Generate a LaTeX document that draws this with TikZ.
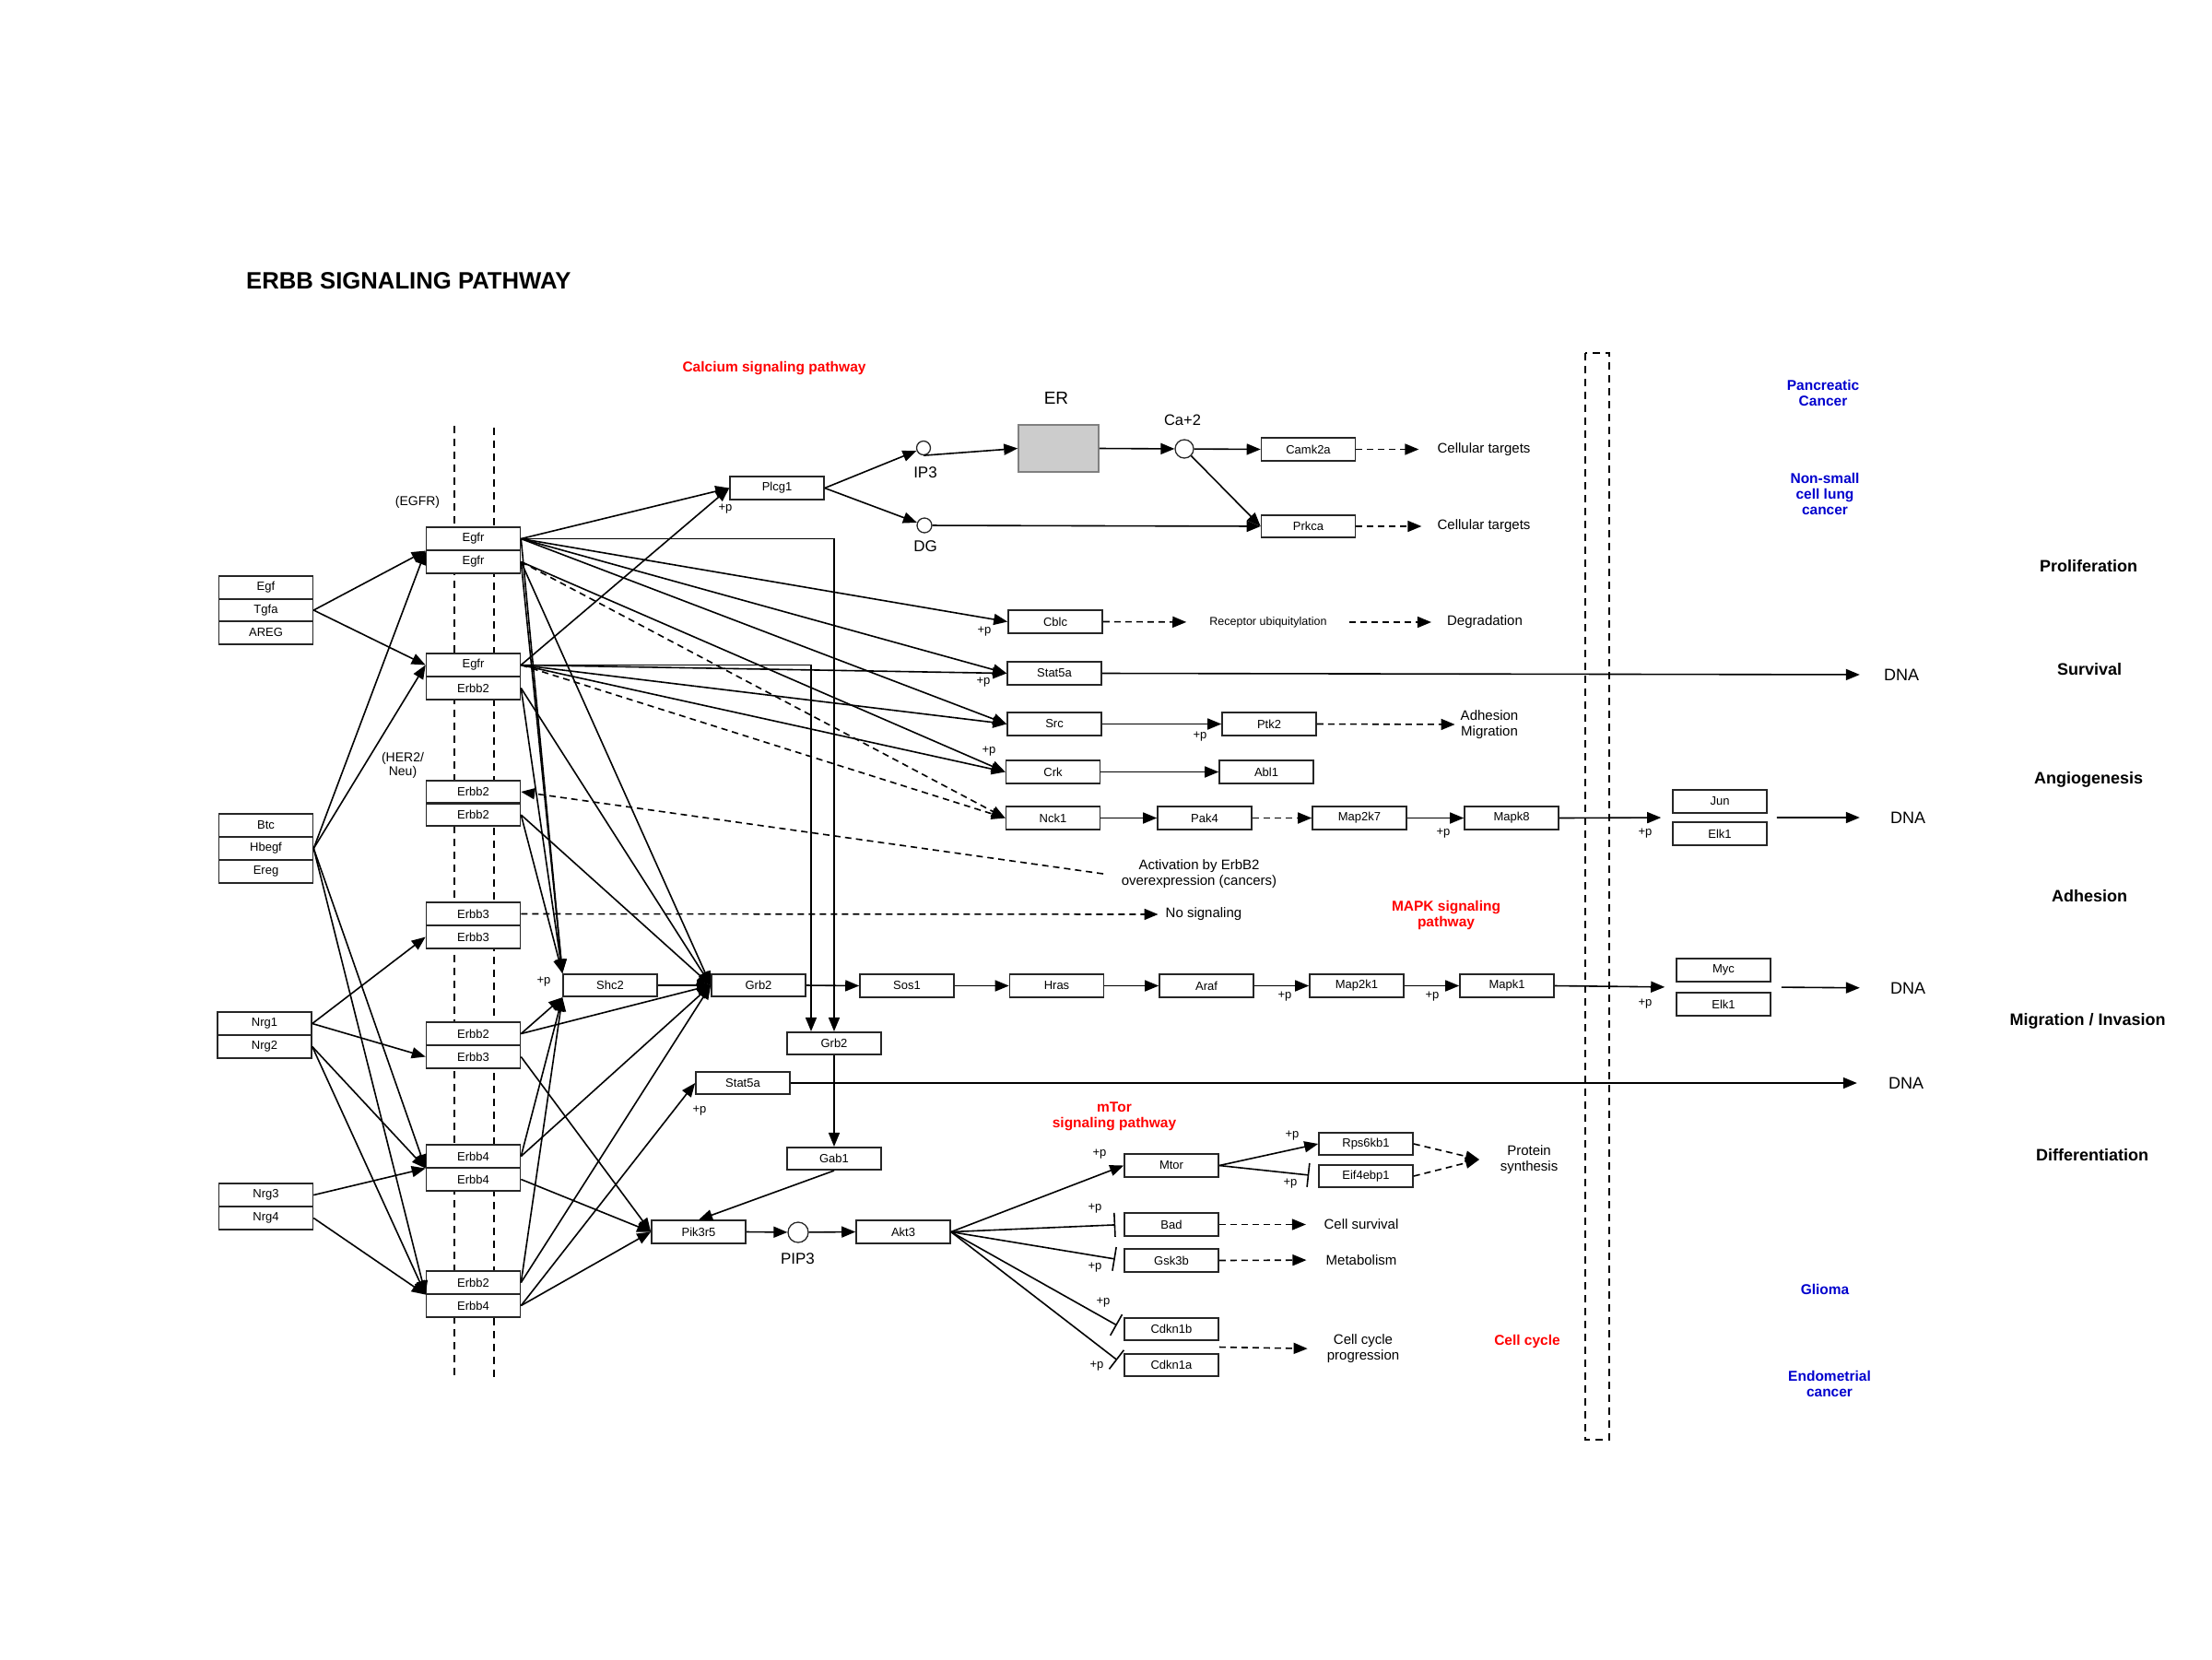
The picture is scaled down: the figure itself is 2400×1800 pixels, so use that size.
\documentclass[tikz,border=0pt]{standalone}
\usepackage{fontspec}
\setmainfont{Liberation Sans}
\usetikzlibrary{arrows.meta,calc}
\definecolor{pwred}{RGB}{255,0,0}
\definecolor{pwblue}{RGB}{0,0,205}
\definecolor{ergray}{RGB}{204,204,204}
\begin{document}
\begin{tikzpicture}[x=1pt,y=-1pt,
  gene/.style={draw=black!85, line width=1.6pt, fill=white, minimum width=102pt, minimum height=24.5pt, inner sep=0pt, font=\fontsize{13}{13}\selectfont},
  conn/.style={line width=1.6pt, -{Triangle[length=15pt,width=12pt]}},
  dconn/.style={conn, dash pattern=on 7pt off 5pt},
  inh/.style={line width=1.6pt, -{Bar[width=26pt,line width=1.6pt]}},
  lbl/.style={inner sep=0pt, font=\fontsize{15}{17}\selectfont, align=center},
  pl/.style={inner sep=0pt, font=\fontsize{13}{13}\selectfont},
  redlbl/.style={inner sep=0pt, font=\bfseries\fontsize{15.5}{17}\selectfont, text=pwred, align=center},
  bluelbl/.style={inner sep=0pt, font=\bfseries\fontsize{15.5}{17}\selectfont, text=pwblue, align=center},
  sidelbl/.style={inner sep=0pt, font=\bfseries\fontsize{18}{20}\selectfont},
  memb/.style={line width=1.2pt, dash pattern=on 8pt off 6pt},
  mol/.style={circle, draw=black!85, line width=1.3pt, fill=white, inner sep=0pt}
]
\useasboundingbox (0,0) rectangle (2400,1800);

% membrane and nucleus border
\draw[memb] (493,462) -- (493,1496);
\draw[memb] (536,464) -- (536,1498);
\draw[line width=1.2pt, dash pattern=on 8pt off 6pt] (1720,383) rectangle (1746,1562);

% title and labels
\node[anchor=west, inner sep=0pt, font=\bfseries\fontsize{25.7}{26}\selectfont] (title) at (267,305) {ERBB SIGNALING PATHWAY};
\node[lbl, font=\fontsize{14}{15}\selectfont] (egfrlbl) at (453,545) {(EGFR)};
\node[lbl, font=\fontsize{14}{15}\selectfont] (herlbl) at (437,830.5) {(HER2/\\Neu)};

% ligands
\node[gene] (egf) at (288.5,637.5) {Egf};
\node[gene] (tgfa) at (288.5,662) {Tgfa};
\node[gene] (areg) at (288.5,686.5) {AREG};
\node[gene] (btc) at (288.5,895.5) {Btc};
\node[gene] (hbegf) at (288.5,920.5) {Hbegf};
\node[gene] (ereg) at (288.5,945.5) {Ereg};
\node[gene] (nrg1) at (287,1110.5) {Nrg1};
\node[gene] (nrg2) at (287,1135.5) {Nrg2};
\node[gene] (nrg3) at (288.5,1296.5) {Nrg3};
\node[gene] (nrg4) at (288.5,1321.5) {Nrg4};

% receptors
\node[gene] (r1a) at (513.5,584.5) {Egfr};
\node[gene] (r1b) at (513.5,609.5) {Egfr};
\node[gene] (r2a) at (513.5,721.5) {Egfr};
\node[gene] (r2b) at (513.5,746.5) {Erbb2};
\node[gene] (r3a) at (513.5,859) {Erbb2};
\node[gene] (r3b) at (513.5,884) {Erbb2};
\node[gene] (r4a) at (513.5,991.5) {Erbb3};
\node[gene] (r4b) at (513.5,1016.5) {Erbb3};
\node[gene] (r5a) at (513.5,1121.5) {Erbb2};
\node[gene] (r5b) at (513.5,1146.5) {Erbb3};
\node[gene] (r6a) at (513.5,1254.5) {Erbb4};
\node[gene] (r6b) at (513.5,1279.5) {Erbb4};
\node[gene] (r7a) at (513.5,1391.5) {Erbb2};
\node[gene] (r7b) at (513.5,1416.5) {Erbb4};

% calcium branch
\node[gene] (plcg1) at (843,529.5) {Plcg1};
\node[mol, minimum size=15pt] (ip3) at (1002,486) {};
\node[mol, minimum size=16pt] (dg) at (1003,570) {};
\node[draw=black!50, fill=ergray, line width=1.6pt, minimum width=87pt, minimum height=51pt, inner sep=0pt] (er) at (1148.5,486.5) {};
\node[mol, minimum size=20pt] (ca) at (1285,487) {};
\node[gene] (camk2a) at (1419.5,487.5) {Camk2a};
\node[gene] (prkca) at (1419.5,571) {Prkca};
\node[lbl, font=\fontsize{19}{19}\selectfont] (erlbl) at (1146,432) {ER};
\node[lbl, font=\fontsize{16.5}{17}\selectfont] (calbl) at (1283,456) {Ca+2};
\node[lbl, font=\fontsize{17}{17}\selectfont] (ip3lbl) at (1004,513) {IP3};
\node[lbl, font=\fontsize{17}{17}\selectfont] (dglbl) at (1004,593) {DG};
\node[lbl] (ct1) at (1610,487.5) {Cellular targets};
\node[lbl] (ct2) at (1610,571) {Cellular targets};

% middle column
\node[gene] (cblc) at (1145,674.5) {Cblc};
\node[gene] (stat5a) at (1144,730.5) {Stat5a};
\node[gene] (src) at (1144,785.5) {Src};
\node[gene] (ptk2) at (1377,785.5) {Ptk2};
\node[gene] (crk) at (1142.5,837.5) {Crk};
\node[gene] (abl1) at (1374,837.5) {Abl1};
\node[gene] (nck1) at (1142.5,887.5) {Nck1};
\node[gene] (pak4) at (1307,887.5) {Pak4};
\node[gene] (map2k7) at (1475,887.5) {Map2k7};
\node[gene] (mapk8) at (1640,887.5) {Mapk8};
\node[gene] (jun) at (1866,869.5) {Jun};
\node[gene] (elk1a) at (1866,904.5) {Elk1};
\node[lbl, font=\fontsize{12.5}{14}\selectfont] (rub) at (1376,675) {Receptor ubiquitylation};
\node[lbl] (degr) at (1611,675) {Degradation};
\node[lbl] (adh) at (1616,786) {Adhesion\\Migration};
\node[lbl] (act) at (1301,948) {Activation by ErbB2\\overexpression (cancers)};
\coordinate (actc) at (1197,948);
\node[lbl] (nosig) at (1306,992) {No signaling};

% MAPK row
\node[gene] (shc2) at (662,1069) {Shc2};
\node[gene] (grb2) at (823,1069) {Grb2};
\node[gene] (sos1) at (984,1069.5) {Sos1};
\node[gene] (hras) at (1146.5,1069.5) {Hras};
\node[gene] (araf) at (1309,1069.5) {Araf};
\node[gene] (map2k1) at (1472,1069.5) {Map2k1};
\node[gene] (mapk1) at (1635,1069.5) {Mapk1};
\node[gene] (myc) at (1870,1052.5) {Myc};
\node[gene] (elk1b) at (1870,1089.5) {Elk1};

% PI3K branch
\node[gene] (grb2b) at (905,1132) {Grb2};
\node[gene] (stat5b) at (806,1175) {Stat5a};
\node[gene] (gab1) at (905,1257) {Gab1};
\node[gene] (pik) at (758,1336.5) {Pik3r5};
\node[mol, minimum size=22pt] (pip3) at (866,1337) {};
\node[lbl, font=\fontsize{17}{17}\selectfont] (pip3lbl) at (865.5,1366) {PIP3};
\node[gene] (akt3) at (980,1336.5) {Akt3};
\node[gene] (mtor) at (1271,1264.5) {Mtor};
\node[gene] (rps) at (1482,1241) {Rps6kb1};
\node[gene] (eif) at (1482,1276) {Eif4ebp1};
\node[gene] (bad) at (1271,1328.5) {Bad};
\node[gene] (gsk) at (1271,1367.5) {Gsk3b};
\node[gene] (cdkn1b) at (1271,1442) {Cdkn1b};
\node[gene] (cdkn1a) at (1271,1481) {Cdkn1a};
\node[lbl] (psyn) at (1659,1258.5) {Protein\\synthesis};
\coordinate (psc) at (1605,1258);
\node[lbl] (csurv) at (1477,1328.5) {Cell survival};
\node[lbl] (metab) at (1477,1367) {Metabolism};
\node[lbl] (ccp) at (1479,1463.5) {Cell cycle\\progression};

% DNA
\node[lbl, font=\fontsize{18}{18}\selectfont] (dna1) at (2063,732) {DNA};
\node[lbl, font=\fontsize{18}{18}\selectfont] (dna2) at (2070,887) {DNA};
\node[lbl, font=\fontsize{18}{18}\selectfont] (dna3) at (2070,1072) {DNA};
\node[lbl, font=\fontsize{18}{18}\selectfont] (dna4) at (2068,1175) {DNA};

% pathway links
\node[redlbl] (calsig) at (840,400) {Calcium signaling pathway};
\node[redlbl] (mapksig) at (1569,992.5) {MAPK signaling\\pathway};
\node[redlbl] (mtorsig) at (1209,1211.5) {mTor\\signaling pathway};
\node[redlbl] (ccyc) at (1657,1455) {Cell cycle};
\node[bluelbl] (pancr) at (1978,426.5) {Pancreatic\\Cancer};
\node[bluelbl] (nsclc) at (1980,536) {Non-small\\cell lung\\cancer};
\node[bluelbl] (glioma) at (1980,1399) {Glioma};
\node[bluelbl] (endo) at (1985,1501.5) {Endometrial\\cancer};

% outcomes
\node[sidelbl] (prolif) at (2266,614) {Proliferation};
\node[sidelbl] (surv) at (2267,726) {Survival};
\node[sidelbl] (angio) at (2266,846) {Angiogenesis};
\node[sidelbl] (adhes) at (2267,972) {Adhesion};
\node[sidelbl] (migr) at (2265,1108) {Migration / Invasion};
\node[sidelbl] (diff) at (2270,1253) {Differentiation};

% +p labels
\node[pl] (p1) at (787,552) {+p};
\node[pl] (p2) at (590,1065) {+p};
\node[pl] (p3) at (759,1205) {+p};
\node[pl] (p4) at (1068,685) {+p};
\node[pl] (p5) at (1067,740) {+p};
\node[pl] (p6) at (1302,799) {+p};
\node[pl] (p7) at (1073,815) {+p};
\node[pl] (p8) at (1566,904) {+p};
\node[pl] (p9) at (1785,904) {+p};
\node[pl] (p10) at (1394,1081) {+p};
\node[pl] (p11) at (1554,1081) {+p};
\node[pl] (p12) at (1785,1089) {+p};
\node[pl] (p13) at (1193,1252) {+p};
\node[pl] (p14) at (1402,1232) {+p};
\node[pl] (p15) at (1400,1284) {+p};
\node[pl] (p16) at (1188,1311) {+p};
\node[pl] (p17) at (1188,1375) {+p};
\node[pl] (p18) at (1197,1413) {+p};
\node[pl] (p19) at (1190,1482) {+p};

% ligand -> receptor
\draw[conn] (tgfa.east) -- (r1a.south west);
\draw[conn] (tgfa.east) -- (r2a.west);
\draw[conn] (hbegf.east) -- (r1a.south west);
\draw[conn] (hbegf.east) -- (r2a.west);
\draw[conn] (hbegf.east) -- (r6a.south west);
\draw[conn] (hbegf.east) -- (r7a.south west);
\draw[conn] (nrg1.east) -- (r4b.west);
\draw[conn] (nrg1.east) -- (r5b.west);
\draw[conn] (nrg2.east) -- (r6a.south west);
\draw[conn] (nrg2.east) -- (r7a.south west);
\draw[conn] (nrg3.east) -- (r6a.south west);
\draw[conn] (nrg4.east) -- (r7a.south west);

% receptor outputs
\draw[conn] (r1a.east) -- (plcg1.west);
\draw[conn] (r2a.east) -- (plcg1.west);
\draw[conn] (r1a.east) -| (grb2b.north);
\draw[conn] (r2a.east) -| ($(grb2b.north)+(-25,0)$);
\draw[conn] (r1a.east) -- (cblc.west);
\draw[conn] (r1a.east) -- (stat5a.west);
\draw[conn] (r1a.east) -- (src.west);
\draw[conn] (r1b.east) -- (crk.west);
\draw[dconn] (r1b.east) -- (nck1.west);
\draw[conn] (r1a.east) -- (shc2.north west);
\draw[conn] (r1b.east) -- (shc2.north west);
\draw[conn] (r1b.east) -- (grb2.west);
\draw[conn] (r2a.east) -- (stat5a.west);
\draw[conn] (r2a.east) -- (src.west);
\draw[conn] (r2a.east) -- (crk.west);
\draw[dconn] (r2a.east) -- (nck1.west);
\draw[conn] (r2b.east) -- (shc2.north west);
\draw[conn] (r2b.east) -- (grb2.west);
\draw[conn] (r3b.east) -- (shc2.north west);
\draw[conn] (r3b.east) -- (grb2.west);
\draw[dconn] (actc) -- (r3a.east);
\draw[dconn, shorten >=8pt] (r4a.east) -- (nosig.west);
\draw[conn] (r5a.east) -- (shc2.south west);
\draw[conn] (r5a.east) -- (grb2.west);
\draw[conn] (r5b.east) -- (pik.west);
\draw[conn] (r6a.east) -- (shc2.south west);
\draw[conn] (r6a.east) -- (grb2.west);
\draw[conn] (r6b.east) -- (pik.west);
\draw[conn] (r7a.east) -- (shc2.south west);
\draw[conn] (r7a.east) -- (grb2.west);
\draw[conn] (r7b.east) -- (pik.west);
\draw[conn] (r7b.east) -- (stat5b.west);

% calcium
\draw[conn] (plcg1.east) -- (ip3);
\draw[conn] (plcg1.east) -- (dg);
\draw[conn] (ip3.south) -- (er.west);
\draw[conn] (er.east) -- (ca);
\draw[conn] (ca) -- (camk2a.west);
\draw[conn] (ca) -- (prkca.west);
\draw[conn] (dg) -- (prkca.west);
\draw[dconn, shorten >=20pt] (camk2a.east) -- (ct1.west);
\draw[dconn, shorten >=17pt] (prkca.east) -- (ct2.west);

% middle
\draw[dconn, shorten >=25pt] (cblc.east) -- (rub.west);
\draw[dconn, shorten <=24pt, shorten >=17pt] (rub.east) -- (degr.west);
\draw[conn, shorten >=26pt] (stat5a.east) -- (dna1.west);
\draw[conn] (src.east) -- (ptk2.west);
\draw[dconn, shorten >=6pt] (ptk2.east) -- (adh.west);
\draw[conn] (crk.east) -- (abl1.west);
\draw[conn] (nck1.east) -- (pak4.west);
\draw[dconn] (pak4.east) -- (map2k7.west);
\draw[conn] (map2k7.east) -- (mapk8.west);
\draw[conn, shorten >=12pt] (mapk8.east) -- ($(jun.south west)!.5!(elk1a.north west)$);
\draw[conn, shorten <=10pt, shorten >=33pt] ($(jun.south east)!.5!(elk1a.north east)$) -- (dna2.west);

% MAPK
\draw[conn] (shc2.east) -- (grb2.west);
\draw[conn] (grb2.east) -- (sos1.west);
\draw[conn] (sos1.east) -- (hras.west);
\draw[conn] (hras.east) -- (araf.west);
\draw[conn] (araf.east) -- (map2k1.west);
\draw[conn] (map2k1.east) -- (mapk1.west);
\draw[conn, shorten >=12pt] (mapk1.east) -- ($(myc.south west)!.5!(elk1b.north west)$);
\draw[conn, shorten <=11pt, shorten >=33pt] ($(myc.south east)!.5!(elk1b.north east)$) -- (dna3.west);
\draw[conn, shorten >=34pt] (stat5b.east) -- (dna4.west);

% PI3K
\draw[conn] (grb2b.south) -- (gab1.north);
\draw[conn] (gab1.south) -- (pik.north);
\draw[conn] (pik.east) -- (pip3);
\draw[conn] (pip3) -- (akt3.west);
\draw[conn] (akt3.east) -- (mtor.west);
\draw[inh, shorten >=9pt] (akt3.east) -- (bad.west);
\draw[inh, shorten >=9.5pt] (akt3.east) -- (gsk.west);
\draw[inh, shorten >=8.5pt] (akt3.east) -- (cdkn1b.west);
\draw[inh, shorten >=9pt] (akt3.east) -- (cdkn1a.west);
\draw[conn] (mtor.east) -- (rps.west);
\draw[inh, shorten >=10pt] (mtor.east) -- (eif.west);
\draw[dconn] (rps.east) -- (psc);
\draw[dconn] (eif.east) -- (psc);
\draw[dconn, shorten >=19.5pt] (bad.east) -- (csurv.west);
\draw[dconn, shorten >=21pt] (gsk.east) -- (metab.west);
\draw[dconn, shorten >=21pt] ($(cdkn1b.south east)!.5!(cdkn1a.north east)$) -- (ccp.west);
\end{tikzpicture}
\end{document}
